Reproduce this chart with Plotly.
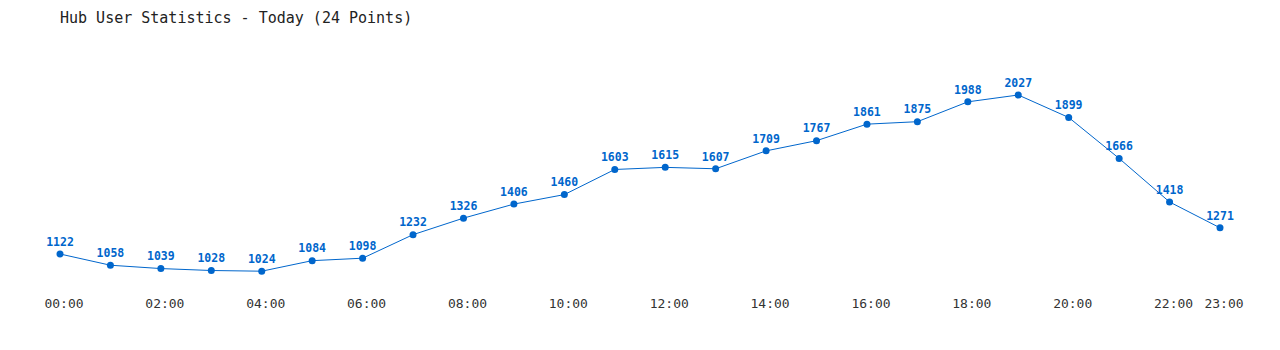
import plotly.graph_objects as go

hours = [f"{h:02d}:00" for h in range(24)]
users = [1122, 1058, 1039, 1028, 1024, 1084, 1098, 1232, 1326, 1406, 1460, 1603,
         1615, 1607, 1709, 1767, 1861, 1875, 1988, 2027, 1899, 1666, 1418, 1271]
tick_hours = [0, 2, 4, 6, 8, 10, 12, 14, 16, 18, 20, 22, 23]
tick_labels = [f"{h:02d}:00" for h in tick_hours]

x_idx = list(range(len(users)))

fig = go.Figure()
fig.add_trace(go.Scatter(
    x=x_idx, y=users, mode="lines+markers+text",
    text=[str(v) for v in users], textposition="top center",
    textfont=dict(family="DejaVu Sans Mono, monospace", size=11.5, color="#0066cc", weight="bold"),
    line=dict(color="#0066cc", width=1),
    marker=dict(color="#0066cc", size=7),
    cliponaxis=False, hoverinfo="skip",
))

fig.update_layout(
    width=1280, height=350,
    paper_bgcolor="white", plot_bgcolor="white",
    margin=dict(l=60, r=60, t=40, b=60),
    showlegend=False,
    title=dict(text="Hub User Statistics - Today (24 Points)",
               x=60/1280, xref="container", xanchor="left",
               y=1-18/350, yref="container", yanchor="middle",
               font=dict(family="DejaVu Sans Mono, monospace", size=15, color="#222")),
    xaxis=dict(range=[0, 23], tickvals=tick_hours, ticktext=tick_labels,
               showgrid=False, zeroline=False, showline=False, ticks="",
               ticklabelstandoff=4, ticklabelshift=4,
               tickfont=dict(family="DejaVu Sans Mono, monospace", size=13, color="#333")),
    yaxis=dict(range=[917, 2340], showgrid=False, zeroline=False, showline=False,
               showticklabels=False, ticks=""),
)

fig.write_html("out.html")
